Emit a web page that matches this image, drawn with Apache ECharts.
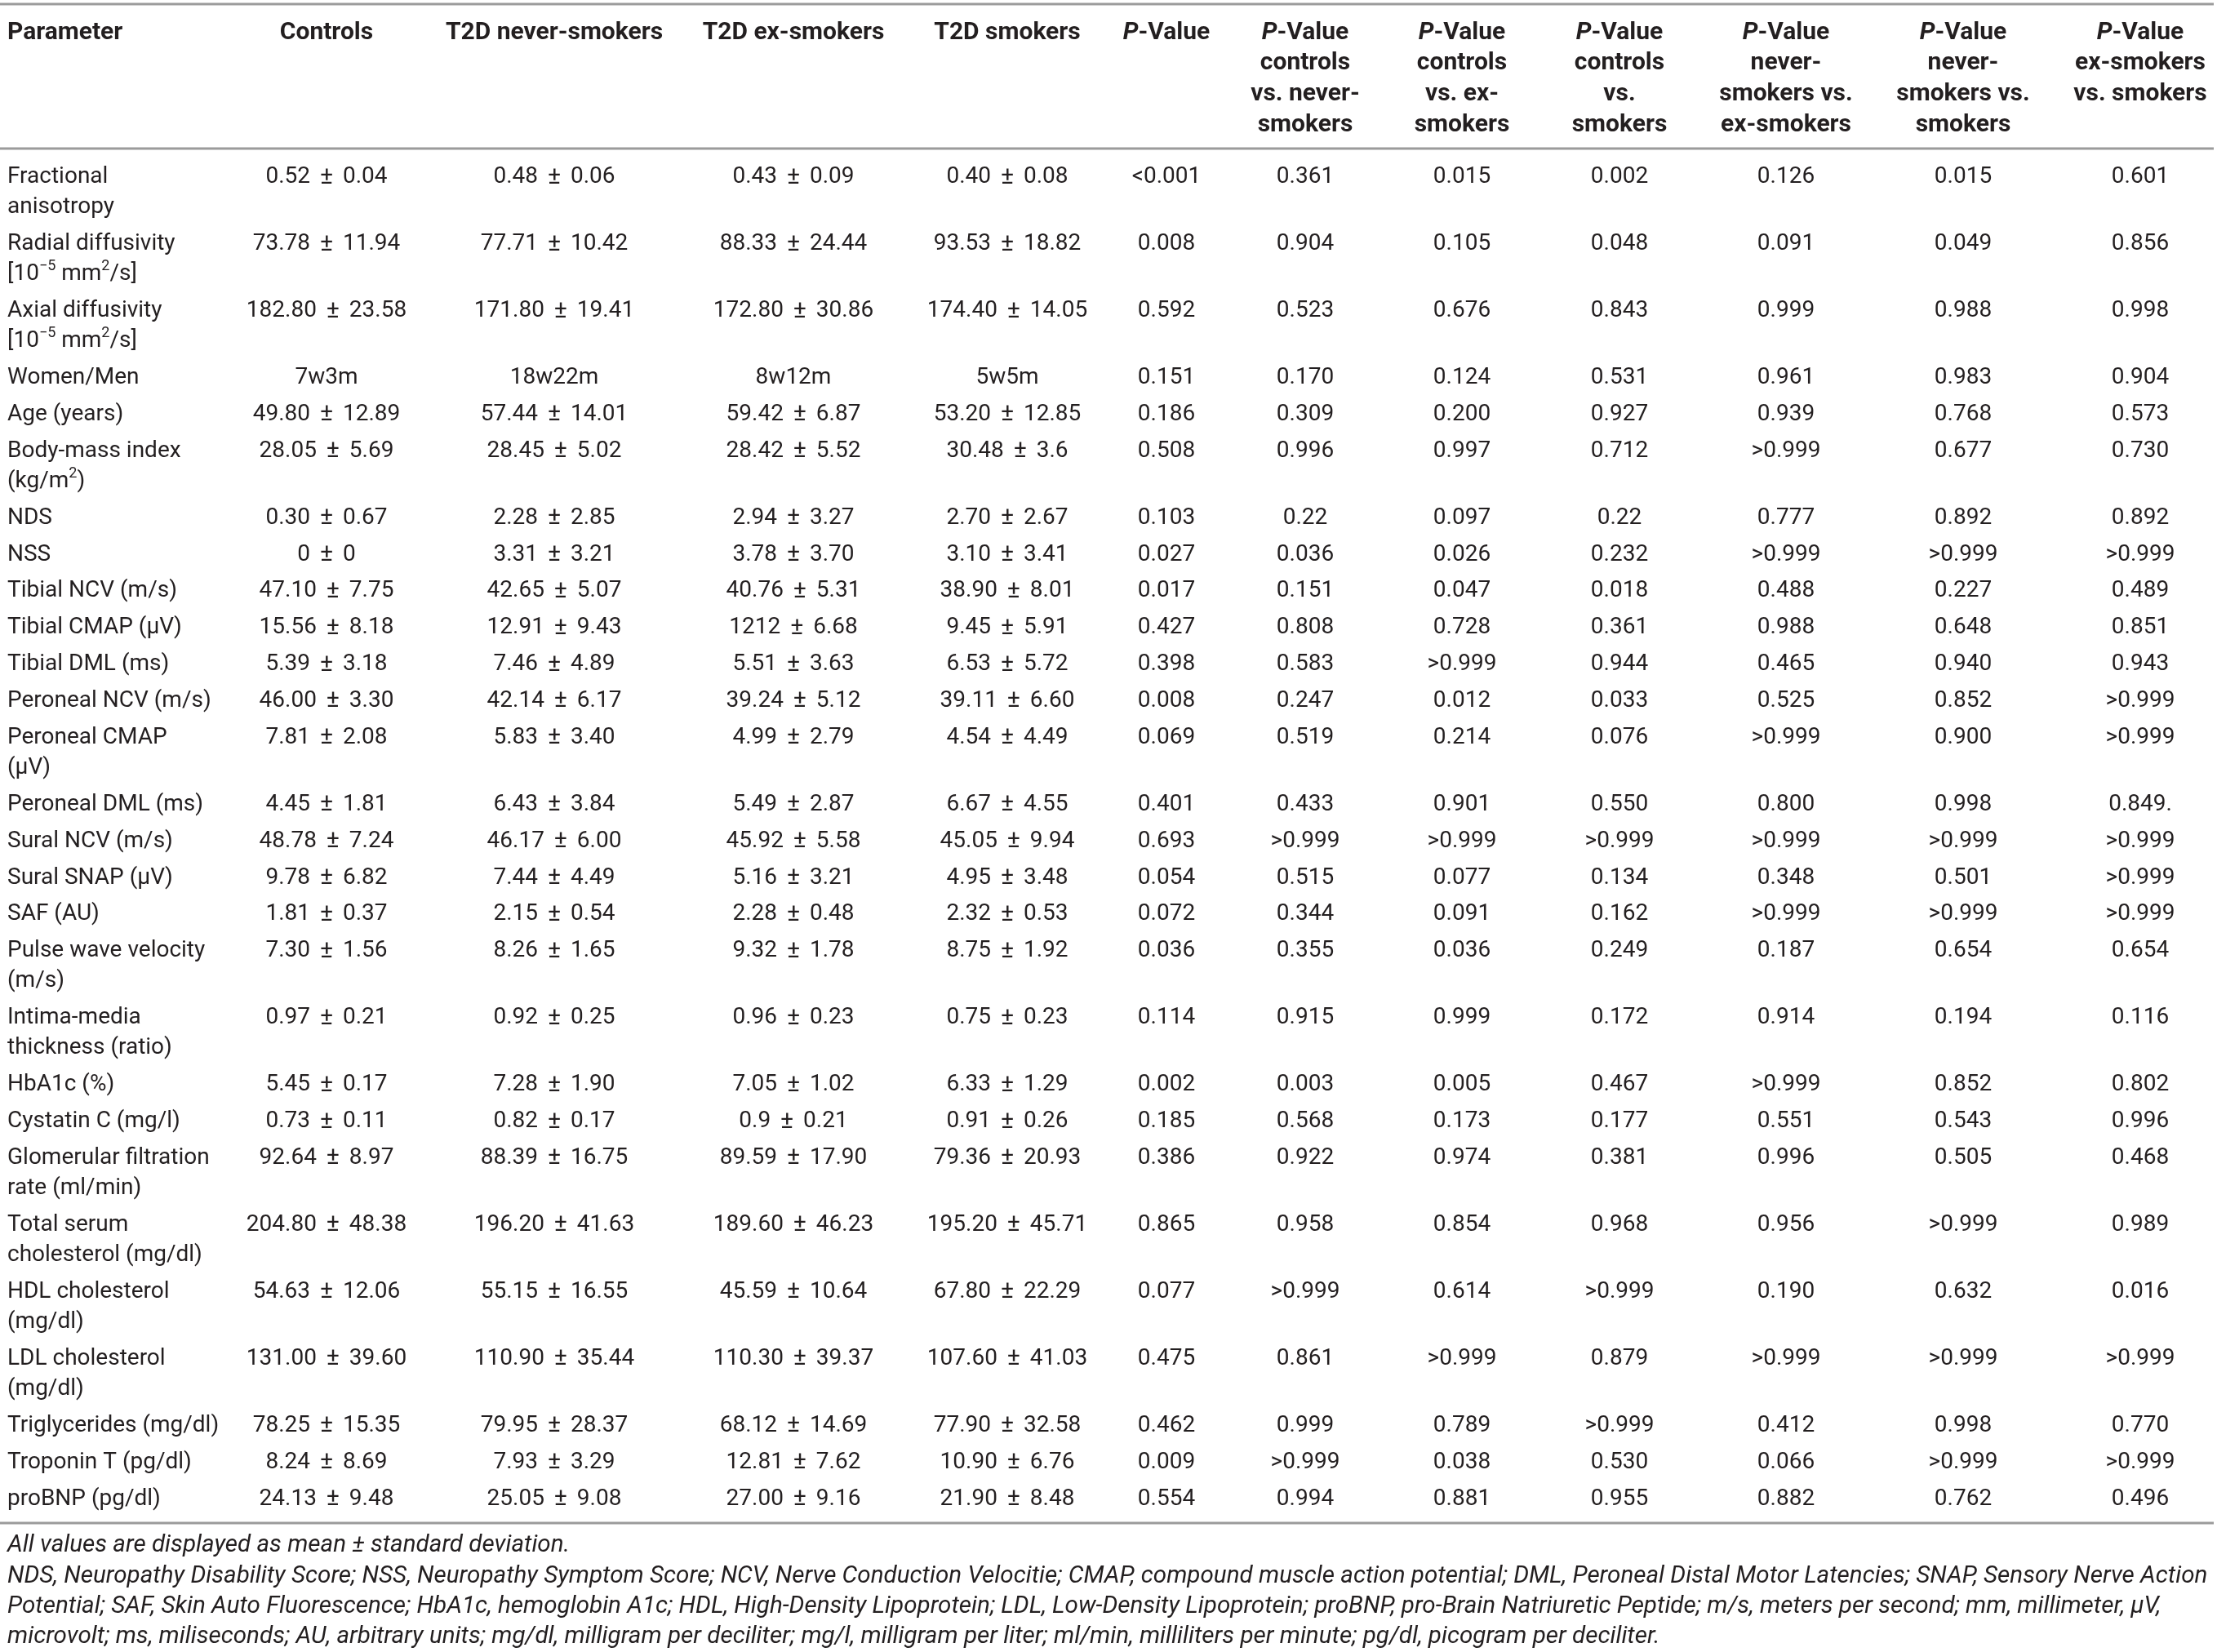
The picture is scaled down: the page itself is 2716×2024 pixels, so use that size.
<!DOCTYPE html>
<html>
<head>
<meta charset="utf-8">
<script src="https://cdn.jsdelivr.net/npm/echarts@6/dist/echarts.min.js"></script>
<style>
html,body{margin:0;padding:0;background:#fff}
#table{width:2716px;height:2024px}
</style>
</head>
<body>
<div id="table"></div>
<script>
// column headers ({i|..} = italic, {sup|..} = superscript)
var headers = [
    'Parameter',
    'Controls',
    'T2D never-smokers',
    'T2D ex-smokers',
    'T2D smokers',
    '{i|P}-Value',
    '{i|P}-Value\ncontrols\nvs. never-\nsmokers',
    '{i|P}-Value\ncontrols\nvs. ex-\nsmokers',
    '{i|P}-Value\ncontrols\nvs.\nsmokers',
    '{i|P}-Value\nnever-\nsmokers vs.\nex-smokers',
    '{i|P}-Value\nnever-\nsmokers vs.\nsmokers',
    '{i|P}-Value\nex-smokers\nvs. smokers'
];

var parameters = [
    'Fractional\nanisotropy',
    'Radial diffusivity\n[10{sup|−5} mm{sup|2}/s]',
    'Axial diffusivity\n[10{sup|−5} mm{sup|2}/s]',
    'Women/Men',
    'Age (years)',
    'Body-mass index\n(kg/m{sup|2})',
    'NDS',
    'NSS',
    'Tibial NCV (m/s)',
    'Tibial CMAP (μV)',
    'Tibial DML (ms)',
    'Peroneal NCV (m/s)',
    'Peroneal CMAP\n(μV)',
    'Peroneal DML (ms)',
    'Sural NCV (m/s)',
    'Sural SNAP (μV)',
    'SAF (AU)',
    'Pulse wave velocity\n(m/s)',
    'Intima-media\nthickness (ratio)',
    'HbA1c (%)',
    'Cystatin C (mg/l)',
    'Glomerular filtration\nrate (ml/min)',
    'Total serum\ncholesterol (mg/dl)',
    'HDL cholesterol\n(mg/dl)',
    'LDL cholesterol\n(mg/dl)',
    'Triglycerides (mg/dl)',
    'Troponin T (pg/dl)',
    'proBNP (pg/dl)'
];

var controls = ['0.52 ± 0.04','73.78 ± 11.94','182.80 ± 23.58','7w3m','49.80 ± 12.89','28.05 ± 5.69','0.30 ± 0.67','0 ± 0','47.10 ± 7.75','15.56 ± 8.18','5.39 ± 3.18','46.00 ± 3.30','7.81 ± 2.08','4.45 ± 1.81','48.78 ± 7.24','9.78 ± 6.82','1.81 ± 0.37','7.30 ± 1.56','0.97 ± 0.21','5.45 ± 0.17','0.73 ± 0.11','92.64 ± 8.97','204.80 ± 48.38','54.63 ± 12.06','131.00 ± 39.60','78.25 ± 15.35','8.24 ± 8.69','24.13 ± 9.48'];
var neverSmokers = ['0.48 ± 0.06','77.71 ± 10.42','171.80 ± 19.41','18w22m','57.44 ± 14.01','28.45 ± 5.02','2.28 ± 2.85','3.31 ± 3.21','42.65 ± 5.07','12.91 ± 9.43','7.46 ± 4.89','42.14 ± 6.17','5.83 ± 3.40','6.43 ± 3.84','46.17 ± 6.00','7.44 ± 4.49','2.15 ± 0.54','8.26 ± 1.65','0.92 ± 0.25','7.28 ± 1.90','0.82 ± 0.17','88.39 ± 16.75','196.20 ± 41.63','55.15 ± 16.55','110.90 ± 35.44','79.95 ± 28.37','7.93 ± 3.29','25.05 ± 9.08'];
var exSmokers = ['0.43 ± 0.09','88.33 ± 24.44','172.80 ± 30.86','8w12m','59.42 ± 6.87','28.42 ± 5.52','2.94 ± 3.27','3.78 ± 3.70','40.76 ± 5.31','1212 ± 6.68','5.51 ± 3.63','39.24 ± 5.12','4.99 ± 2.79','5.49 ± 2.87','45.92 ± 5.58','5.16 ± 3.21','2.28 ± 0.48','9.32 ± 1.78','0.96 ± 0.23','7.05 ± 1.02','0.9 ± 0.21','89.59 ± 17.90','189.60 ± 46.23','45.59 ± 10.64','110.30 ± 39.37','68.12 ± 14.69','12.81 ± 7.62','27.00 ± 9.16'];
var smokers = ['0.40 ± 0.08','93.53 ± 18.82','174.40 ± 14.05','5w5m','53.20 ± 12.85','30.48 ± 3.6','2.70 ± 2.67','3.10 ± 3.41','38.90 ± 8.01','9.45 ± 5.91','6.53 ± 5.72','39.11 ± 6.60','4.54 ± 4.49','6.67 ± 4.55','45.05 ± 9.94','4.95 ± 3.48','2.32 ± 0.53','8.75 ± 1.92','0.75 ± 0.23','6.33 ± 1.29','0.91 ± 0.26','79.36 ± 20.93','195.20 ± 45.71','67.80 ± 22.29','107.60 ± 41.03','77.90 ± 32.58','10.90 ± 6.76','21.90 ± 8.48'];

var pAll = ['<0.001','0.008','0.592','0.151','0.186','0.508','0.103','0.027','0.017','0.427','0.398','0.008','0.069','0.401','0.693','0.054','0.072','0.036','0.114','0.002','0.185','0.386','0.865','0.077','0.475','0.462','0.009','0.554'];
var pCtrlNever = ['0.361','0.904','0.523','0.170','0.309','0.996','0.22','0.036','0.151','0.808','0.583','0.247','0.519','0.433','>0.999','0.515','0.344','0.355','0.915','0.003','0.568','0.922','0.958','>0.999','0.861','0.999','>0.999','0.994'];
var pCtrlEx = ['0.015','0.105','0.676','0.124','0.200','0.997','0.097','0.026','0.047','0.728','>0.999','0.012','0.214','0.901','>0.999','0.077','0.091','0.036','0.999','0.005','0.173','0.974','0.854','0.614','>0.999','0.789','0.038','0.881'];
var pCtrlSmk = ['0.002','0.048','0.843','0.531','0.927','0.712','0.22','0.232','0.018','0.361','0.944','0.033','0.076','0.550','>0.999','0.134','0.162','0.249','0.172','0.467','0.177','0.381','0.968','>0.999','0.879','>0.999','0.530','0.955'];
var pNeverEx = ['0.126','0.091','0.999','0.961','0.939','>0.999','0.777','>0.999','0.488','0.988','0.465','0.525','>0.999','0.800','>0.999','0.348','>0.999','0.187','0.914','>0.999','0.551','0.996','0.956','0.190','>0.999','0.412','0.066','0.882'];
var pNeverSmk = ['0.015','0.049','0.988','0.983','0.768','0.677','0.892','>0.999','0.227','0.648','0.940','0.852','0.900','0.998','>0.999','0.501','>0.999','0.654','0.194','0.852','0.543','0.505','>0.999','0.632','>0.999','0.998','>0.999','0.762'];
var pExSmk = ['0.601','0.856','0.998','0.904','0.573','0.730','0.892','>0.999','0.489','0.851','0.943','>0.999','>0.999','0.849.','>0.999','>0.999','>0.999','0.654','0.116','0.802','0.996','0.468','0.989','0.016','>0.999','0.770','>0.999','0.496'];

var footnotes = [
    'All values are displayed as mean ± standard deviation.',
    'NDS, Neuropathy Disability Score; NSS, Neuropathy Symptom Score; NCV, Nerve Conduction Velocitie; CMAP, compound muscle action potential; DML, Peroneal Distal Motor Latencies; SNAP, Sensory Nerve Action',
    'Potential; SAF, Skin Auto Fluorescence; HbA1c, hemoglobin A1c; HDL, High-Density Lipoprotein; LDL, Low-Density Lipoprotein; proBNP, pro-Brain Natriuretic Peptide; m/s, meters per second; mm, millimeter, μV,',
    'microvolt; ms, miliseconds; AU, arbitrary units; mg/dl, milligram per deciliter; mg/l, milligram per liter; ml/min, milliliters per minute; pg/dl, picogram per deciliter.'
];

var columns = [parameters, controls, neverSmokers, exSmokers, smokers, pAll, pCtrlNever, pCtrlEx, pCtrlSmk, pNeverEx, pNeverSmk, pExSmk];

// layout (page pixels)
var W = 2716, H = 2024;
var colX = [9, 400, 679, 972, 1234, 1429, 1599, 1791, 1984, 2188, 2405, 2622];
var headFirst = 40, headStep = 37.7;
var bodyFirst = 217, rowStep = 44.85, lineStep = 37.15;
var noteFirst = 1894, noteStep = 37.3;
var ruleY = [5, 182, 1866];
var ruleRight = 2712;
var ink = '#231f20';
var family = 'Roboto, "Liberation Sans", sans-serif';
var bodySize = 28, headSize = 30, noteSize = 29.6;

var rowY = [];
var y = bodyFirst;
for (var i = 0; i < parameters.length; i++) {
    rowY.push(y);
    y += rowStep + lineStep * (parameters[i].split('\n').length - 1);
}

var cells = [];
for (var c = 0; c < headers.length; c++) {
    cells.push({x: colX[c], y: headFirst - headStep / 2, text: headers[c], col: c, kind: 'head'});
}
for (var c = 0; c < columns.length; c++) {
    for (var r = 0; r < columns[c].length; r++) {
        cells.push({x: colX[c], y: rowY[r] - lineStep / 2, text: columns[c][r], col: c, kind: 'body'});
    }
}
for (var k = 0; k < footnotes.length; k++) {
    cells.push({x: colX[0], y: noteFirst + k * noteStep - noteStep / 2, text: footnotes[k], col: 0, kind: 'note'});
}

var cellData = cells.map(function (d) { return [d.x, d.y]; });
var ruleData = ruleY.map(function (v) { return [0, v]; });

function cellStyle(d) {
    var st = {
        text: d.text,
        x: 0,
        y: 0,
        fill: ink,
        fontFamily: family,
        fontSize: bodySize,
        fontWeight: 'normal',
        fontStyle: 'normal',
        align: d.col === 0 ? 'left' : 'center',
        verticalAlign: 'top',
        lineHeight: lineStep
    };
    if (d.kind === 'head') {
        st.fontWeight = 'bold';
        st.fontSize = headSize;
        st.lineHeight = headStep;
        st.rich = {
            i: {fontStyle: 'italic', fontWeight: 'bold', fontFamily: family, fontSize: headSize, fill: ink, lineHeight: headStep}
        };
    } else if (d.kind === 'note') {
        st.fontStyle = 'italic';
        st.fontSize = noteSize;
        st.lineHeight = noteStep;
        st.align = 'left';
    } else {
        // the ± in the source is set wide, with generous spacing
        st.text = d.text.replace(' ± ', ' {pm|±} ');
        st.rich = {
            sup: {fontFamily: family, fontSize: 18, fill: ink, lineHeight: 20, verticalAlign: 'top'},
            pm: {fontFamily: family, fontSize: 30, fill: ink, lineHeight: lineStep, padding: [0, 5]}
        };
    }
    return st;
}

var mychart = echarts.init(document.getElementById('table'));
var option = {
    animation: false,
    grid: {left: 0, right: 0, top: 0, bottom: 0},
    xAxis: {type: 'value', min: 0, max: W, show: false},
    yAxis: {type: 'value', min: 0, max: H, inverse: true, show: false},
    series: [
        {
            type: 'custom',
            clip: false,
            data: ruleData,
            renderItem: function (params, api) {
                var a = api.coord([api.value(0), api.value(1)]);
                var b = api.coord([ruleRight, api.value(1)]);
                return {
                    type: 'line',
                    shape: {x1: a[0], y1: a[1], x2: b[0], y2: b[1]},
                    style: {stroke: '#9b9b9b', lineWidth: 3}
                };
            }
        },
        {
            type: 'custom',
            clip: false,
            data: cellData,
            renderItem: function (params, api) {
                var d = cells[params.dataIndex];
                var p = api.coord([api.value(0), api.value(1)]);
                return {
                    type: 'text',
                    x: p[0],
                    y: p[1],
                    style: cellStyle(d)
                };
            }
        }
    ]
};
mychart.setOption(option);
</script>
</body>
</html>
